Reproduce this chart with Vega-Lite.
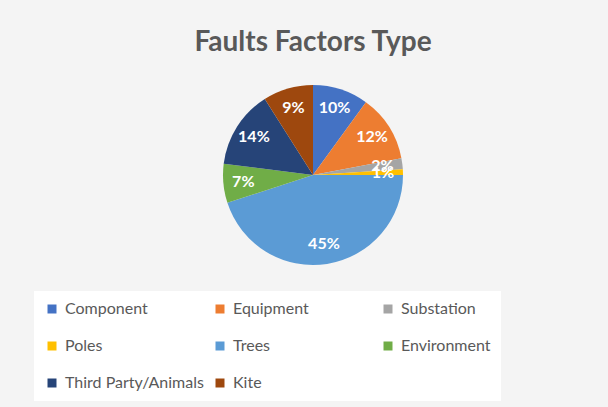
{
  "$schema": "https://vega.github.io/schema/vega-lite/v6.json",
  "width": 590,
  "height": 230,
  "autosize": "none",
  "padding": {"left": 18, "top": 60, "right": 0, "bottom": 117},
  "background": "#F4F4F4",
  "title": {"text": "Faults Factors Type", "font": "Lato", "fontSize": 28, "fontWeight": "bold", "color": "#595959", "anchor": "middle", "offset": 3},
  "data": {"values": [
    {"idx": 1, "factor": "Component", "value": 0.10},
    {"idx": 2, "factor": "Equipment", "value": 0.12},
    {"idx": 3, "factor": "Substation", "value": 0.02},
    {"idx": 4, "factor": "Poles", "value": 0.01},
    {"idx": 5, "factor": "Trees", "value": 0.45},
    {"idx": 6, "factor": "Environment", "value": 0.07},
    {"idx": 7, "factor": "Third Party/Animals", "value": 0.14},
    {"idx": 8, "factor": "Kite", "value": 0.09}
  ]},
  "encoding": {
    "theta": {"field": "value", "type": "quantitative", "stack": true},
    "order": {"field": "idx", "type": "quantitative"}
  },
  "layer": [
    {
      "mark": {"type": "arc", "outerRadius": 90},
      "encoding": {
        "color": {
          "field": "factor", "type": "nominal",
          "scale": {
            "domain": ["Component", "Equipment", "Substation", "Poles", "Trees", "Environment", "Third Party/Animals", "Kite"],
            "range": ["#4472C4", "#ED7D31", "#A5A5A5", "#FFC000", "#5B9BD5", "#70AD47", "#264478", "#9E480E"]
          },
          "legend": {
            "title": null,
            "orient": "none",
            "direction": "horizontal",
            "legendX": 16,
            "legendY": 231,
            "columns": 3,
            "gridAlign": "all",
            "columnPadding": 8,
            "rowPadding": 21,
            "padding": 10,
            "fillColor": "white",
            "symbolType": "square",
            "symbolSize": 81,
            "symbolStrokeWidth": 0,
            "labelFont": "Lato",
            "labelFontSize": 16,
            "labelColor": "#595959",
            "labelOffset": 5,
            "labelLimit": 300
          }
        }
      }
    },
    {
      "mark": {"type": "text", "radius": 70, "font": "Lato", "fontWeight": "bold", "fontSize": 16, "color": "white"},
      "encoding": {"text": {"field": "value", "type": "quantitative", "format": ".0%"}}
    }
  ],
  "config": {"view": {"stroke": null}}
}
